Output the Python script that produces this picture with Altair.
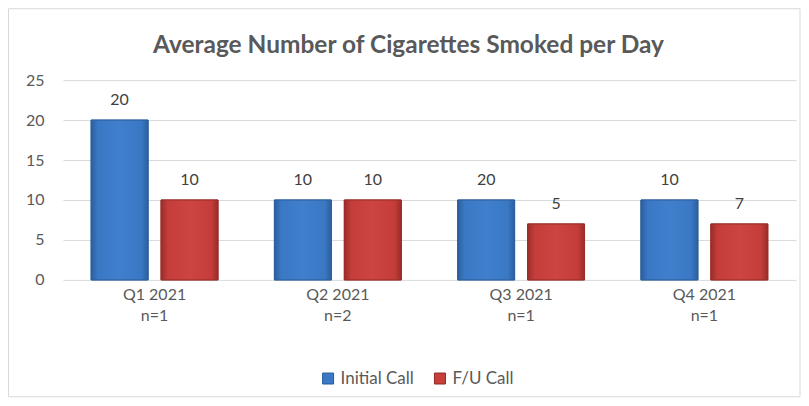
import altair as alt
import pandas as pd

quarters = ["Q1 2021|n=1", "Q2 2021|n=2", "Q3 2021|n=1", "Q4 2021|n=1"]
series = ["Initial Call", "F/U Call"]
initial_bar = [20, 10, 10, 10]
fu_bar = [10, 10, 7, 7]
initial_label = [20, 10, 20, 10]
fu_label = [10, 10, 5, 7]
y_ticks = [0, 5, 10, 15, 20, 25]
title_text = "Average Number of Cigarettes Smoked per Day"

rows = []
for i, q in enumerate(quarters):
    rows.append({"quarter": q, "series": series[0], "value": initial_bar[i], "label": initial_label[i]})
    rows.append({"quarter": q, "series": series[1], "value": fu_bar[i], "label": fu_label[i]})
df = pd.DataFrame(rows)

FONT = "Lato"
GRAY = "#595959"
W, H = 734, 200
BLUE, RED = "#3b79c6", "#c73e3b"
BLUE_D, RED_D = "#2a5a96", "#8e2826"

x_enc = alt.X("quarter:N", sort=quarters, title=None,
              scale=alt.Scale(paddingInner=0, paddingOuter=0),
              axis=alt.Axis(labelExpr="split(datum.value, '|')", labelAngle=0,
                            labelFontSize=16, labelColor=GRAY, labelFont=FONT,
                            labelLineHeight=21, labelPadding=7,
                            ticks=False, domain=False, grid=False))
xo_enc = alt.XOffset("series:N", sort=series,
                     scale=alt.Scale(paddingInner=0.186, paddingOuter=0.4036))
y_axis = alt.Axis(values=y_ticks, labelFontSize=16, labelColor=GRAY, labelFont=FONT,
                  gridColor="#d9d9d9", domain=False, ticks=False, labelPadding=19,
                  labelOverlap=False)
y_enc = alt.Y("value:Q", title=None, scale=alt.Scale(domain=[0, 25], nice=False), axis=y_axis)

bars = alt.Chart(df).mark_bar(strokeWidth=1).encode(
    x=x_enc,
    xOffset=xo_enc,
    y=y_enc,
    color=alt.Color("series:N", sort=series,
                    scale=alt.Scale(domain=series, range=[BLUE, RED]),
                    legend=alt.Legend(title=None, orient="none", direction="horizontal",
                                      legendX=257, legendY=290, symbolType="square",
                                      symbolSize=121, labelFontSize=17, labelColor=GRAY,
                                      labelFont=FONT, columnPadding=17, labelOffset=4,
                                      symbolStrokeWidth=1)),
    stroke=alt.Stroke("series:N", sort=series,
                      scale=alt.Scale(domain=series, range=[BLUE_D, RED_D]),
                      legend=None),
)


def shaded(name, dark, mid, light):
    grad = alt.Gradient(gradient="linear", x1=0, x2=1, y1=0, y2=0,
                        stops=[alt.GradientStop(color=dark, offset=0),
                               alt.GradientStop(color=mid, offset=0.12),
                               alt.GradientStop(color=light, offset=0.5),
                               alt.GradientStop(color=mid, offset=0.88),
                               alt.GradientStop(color=dark, offset=1)])
    return alt.Chart(df).transform_filter(alt.datum.series == name).mark_bar(
        color=grad, stroke=dark, strokeWidth=1).encode(
        x=x_enc,
        xOffset=xo_enc,
        y=y_enc,
    )


blue_sh = shaded(series[0], "#2c5f9f", "#3a78c4", "#3f7fcc")
red_sh = shaded(series[1], "#9a2d2a", "#c53d3a", "#cc4542")

labels = alt.Chart(df).mark_text(dy=-15, baseline="alphabetic", fontSize=16,
                                 font=FONT, color="#404040").encode(
    x=x_enc,
    xOffset=xo_enc,
    y=y_enc,
    text=alt.Text("label:Q"),
)

title = alt.Chart(pd.DataFrame({"t": [title_text]})).mark_text(
    fontSize=24.5, font=FONT, fontWeight="bold", color=GRAY, baseline="middle", align="center").encode(
    x=alt.value(346), y=alt.value(-34), text="t:N")

border = alt.Chart(pd.DataFrame({"a": [0]})).mark_rect(
    fill=None, stroke="#d9d9d9", strokeWidth=1).encode(
    x=alt.value(-54.5), x2=alt.value(738), y=alt.value(-71.5), y2=alt.value(317))

chart = alt.layer(border, title, bars, blue_sh, red_sh, labels).properties(
    width=W, height=H,
    padding=0,
).configure_view(stroke=None)

chart.save("out.html", embed_options={"renderer": "svg", "actions": False})
